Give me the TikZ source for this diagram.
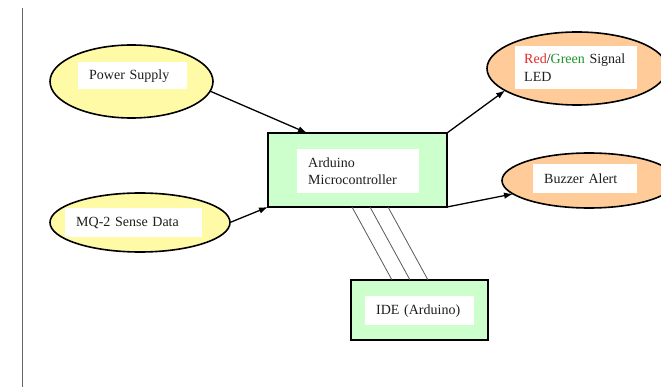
\documentclass[tikz,border=0pt]{standalone}
\usepackage{fontspec}
\setmainfont{Liberation Serif}
\usetikzlibrary{shapes.geometric,arrows.meta,calc}
\definecolor{yfill}{RGB}{255,250,165}
\definecolor{ofill}{RGB}{255,204,153}
\definecolor{gfill}{RGB}{204,255,204}
\definecolor{txt}{RGB}{30,30,30}
\definecolor{redtxt}{RGB}{230,40,40}
\definecolor{greentxt}{RGB}{30,150,40}
\tikzset{
  oval/.style={ellipse, draw=black, line width=1.6pt, inner sep=0pt, outer sep=0pt},
  yoval/.style={oval, fill=yfill},
  ooval/.style={oval, fill=ofill},
  gbox/.style={rectangle, draw=black, line width=2pt, fill=gfill, inner sep=0pt, outer sep=0pt},
  wbox/.style={rectangle, fill=white, anchor=north west, inner xsep=11pt, inner ysep=0pt,
    align=left, text=txt, font=\fontsize{14}{17.5}\selectfont},
  arr/.style={draw=black, line width=1.3pt, -{Latex[length=9pt,width=6.5pt]}},
  link/.style={draw=black!65, line width=0.8pt},
}
\begin{document}
\begin{tikzpicture}[x=1pt,y=-1pt]
\useasboundingbox (0,0) rectangle (661,387);
\clip (0,0) rectangle (661,387);
\fill[white] (0,0) rectangle (661,387);
% left rule
\coordinate (rtop) at (22,8);
\coordinate (rbot) at (22,387);
\draw[black!60, line width=1pt] (rtop) -- (rbot);
% ellipses and boxes
\node[yoval, minimum width=163pt, minimum height=73pt] (ps) at (131.5,81.5) {};
\node[wbox, text width=87pt, minimum height=27pt] (pst) at (78,62) {Power Supply};
\node[yoval, minimum width=180pt, minimum height=59pt] (mq) at (140,222.5) {};
\node[wbox, text width=115pt, minimum height=29pt] (mqt) at (65,208) {MQ-2 Sense Data};
\node[gbox, minimum width=179pt, minimum height=74pt] (ard) at (357.5,170) {};
\node[wbox, text width=100pt, minimum height=44pt] (ardt) at (297,149) {Arduino\\Microcontroller};
\node[ooval, minimum width=180pt, minimum height=73pt] (led) at (577,68.5) {};
\node[wbox, inner xsep=9pt, text width=104pt, minimum height=43pt] (ledt) at (515,46) {\textcolor{redtxt}{Red}/\textcolor{greentxt}{Green} Signal\\LED};
\node[ooval, minimum width=174pt, minimum height=55pt] (bz) at (589,180.5) {};
\node[wbox, text width=82pt, minimum height=29pt] (bzt) at (533,164) {Buzzer Alert};
\node[gbox, minimum width=137pt, minimum height=60pt] (ide) at (419.5,310) {};
\node[wbox, text width=87pt, minimum height=29pt] (idet) at (365,296) {IDE (Arduino)};
% arrows
\draw[arr] (ps.-7) -- ($(ard.north west)+(39,0)$);
\draw[arr] (mq.east) -- (ard.south west);
\draw[arr] (ard.north east) -- (led.197);
\draw[arr] (ard.south east) -- (bz.190);
% links to IDE
\draw[link] ($(ard.south)+(-5.5,0)$) -- ($(ide.north)+(-27.5,0)$);
\draw[link] ($(ard.south)+(12.5,0)$) -- ($(ide.north)+(-9.5,0)$);
\draw[link] ($(ard.south)+(30.5,0)$) -- ($(ide.north)+(8.5,0)$);
\end{tikzpicture}
\end{document}
